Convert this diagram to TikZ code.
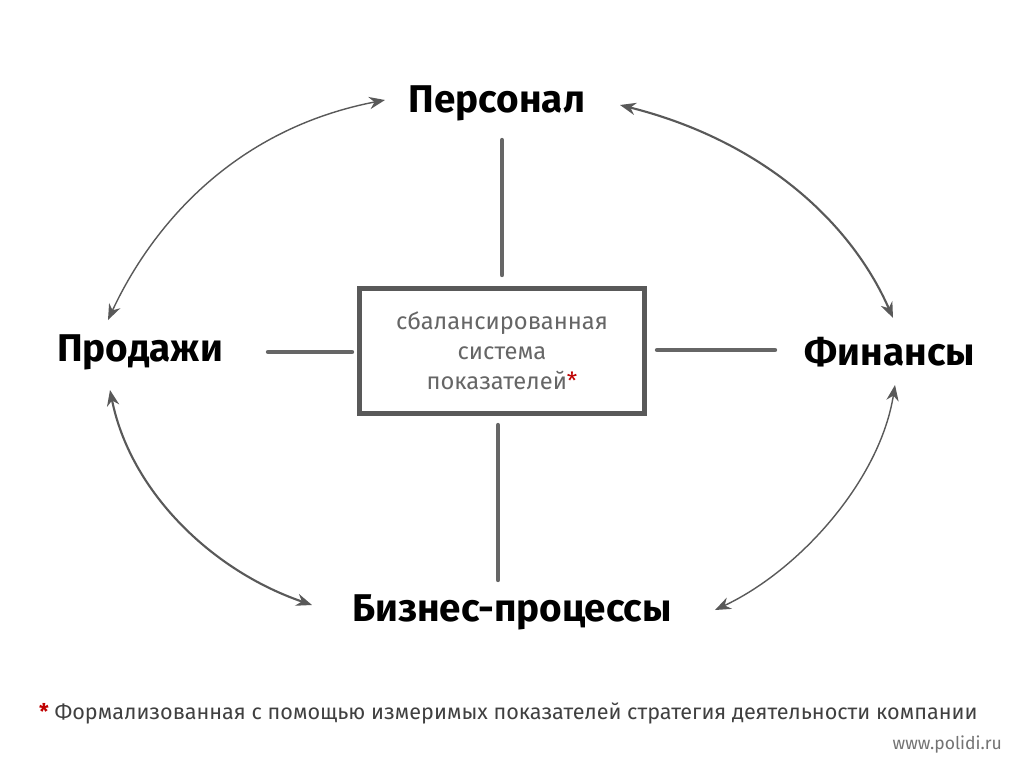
\documentclass[tikz,border=0pt]{standalone}
\usepackage{fontspec}
\setmainfont{Fira Sans}
\usetikzlibrary{arrows.meta}
\begin{document}
\begin{tikzpicture}[x=0.02cm,y=-0.02cm,
  lbl/.style={font=\bfseries\fontsize{22}{24}\selectfont,text=black,inner sep=2pt},
  arc/.style={{Stealth[length=9pt,width=7pt]}-{Stealth[length=9pt,width=7pt]},draw=black!65,line width=1.2pt},
  bar/.style={draw=black!60,line width=2.5pt,line cap=round}]
\useasboundingbox (0,0) rectangle (1024,768);
\fill[white] (0,0) rectangle (1024,768);
\node[lbl] (p) at (497,103) {Персонал};
\node[lbl] (s) at (140,352) {Продажи};
\node[lbl] (f) at (890,352) {Финансы};
\node[lbl] (b) at (512,612) {Бизнес-процессы};
\node[draw=black!65,line width=3pt,minimum width=5.7cm,minimum height=2.5cm,align=center,text=black!60,font=\fontsize{13.5}{17}\selectfont] (c) at (502,351)
 {сбалансированная\\система\\показателей{\color{red!75!black}*}};
\coordinate (pt) at (502,140); \coordinate (pb) at (502,275);
\coordinate (bt) at (498,425); \coordinate (bb) at (498,580);
\coordinate (sl) at (268,352); \coordinate (sr) at (352,352);
\coordinate (fl) at (657,350); \coordinate (fr) at (775,350);
\draw[bar] (pt) -- (pb); \draw[bar] (bt) -- (bb);
\draw[bar] (sl) -- (sr); \draw[bar] (fl) -- (fr);
\coordinate (a1) at (385,100); \coordinate (a2) at (108,320);
\coordinate (a3) at (620,105); \coordinate (a4) at (893,318);
\coordinate (a5) at (110,390); \coordinate (a6) at (312,605);
\coordinate (a7) at (895,385); \coordinate (a8) at (715,610);
\draw[arc,line width=0.8pt] (a1) .. controls (230,130) and (150,230) .. (a2);
\draw[arc] (a3) .. controls (760,140) and (850,220) .. (a4);
\draw[arc] (a5) .. controls (130,490) and (210,570) .. (a6);
\draw[arc,line width=0.8pt] (a7) .. controls (880,480) and (800,570) .. (a8);
\node[anchor=west,font=\fontsize{12.3}{14}\selectfont,text=black!75] (fn) at (33,713)
 {{\color{red!75!black}\bfseries *} Формализованная с помощью измеримых показателей стратегия деятельности компании};
\node[anchor=east,font=\fontsize{10}{12}\selectfont,text=black!55] (w) at (1008,745) {www.polidi.ru};
\end{tikzpicture}
\end{document}
